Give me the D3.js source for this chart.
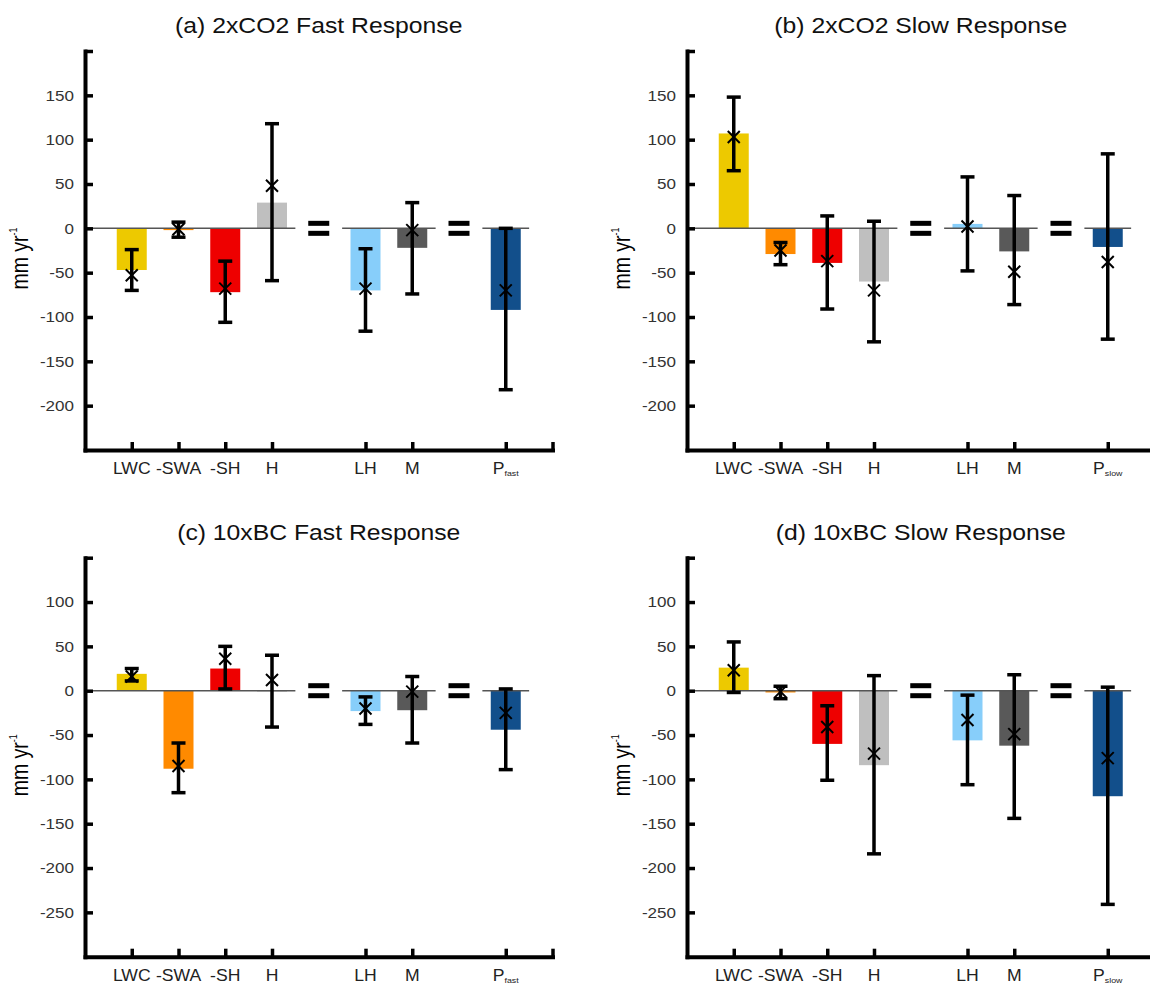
<!DOCTYPE html>
<html>
<head>
<meta charset="utf-8">
<script src="https://cdn.jsdelivr.net/npm/d3@7"></script>
<style>
  body { margin: 0; background: #fff; }
  svg text { font-family: "Liberation Sans", Arial, sans-serif; }
</style>
</head>
<body>
<div id="chart"></div>
<script>
var vWidth = 1150;
var vHeight = 985;

// categories (blank slots hold the "=" signs and the axis ends)
var categories = ["LWC", "-SWA", "-SH", "H", "LH", "M", "P"];
var slots = ["start", "LWC", "-SWA", "-SH", "H", "eq1", "LH", "M", "eq2", "P", "end"];
var colors = ["#edc900", "#ff8a00", "#ee0000", "#bfbfbf", "#87cefa", "#595959", "#124f8b"];

// (a) 2xCO2 fast
var barA   = [-47, -2, -72, 29, -70, -22, -92];
var crossA = [-53, -1, -68, 48, -68, -2, -70];
var lowA   = [-70, -10, -106, -59, -116, -74, -182];
var highA  = [-24, 7, -37, 118, -23, 29, 0];

// (b) 2xCO2 slow
var barB   = [107, -29, -39, -60, 5, -26, -21];
var crossB = [103, -25, -37, -70, 2, -49, -38];
var lowB   = [65, -41, -91, -128, -48, -86, -125];
var highB  = [148, -16, 14, 8, 58, 37, 84];

// (c) 10xBC fast
var barC   = [19, -88, 25, -1, -23, -22, -44];
var crossC = [16, -85, 36, 12, -20, -1, -25];
var lowC   = [11, -115, 2, -41, -38, -59, -89];
var highC  = [25, -59, 50, 40, -7, 16, 2];

// (d) 10xBC slow
var barD   = [26, -2, -60, -84, -56, -62, -119];
var crossD = [23, -1, -41, -71, -33, -49, -76];
var lowD   = [-2, -9, -101, -184, -106, -144, -241];
var highD  = [55, 5, -17, 17, -5, 18, 4];

var panels = [
  { title: "(a) 2xCO2 Fast Response", sub: "fast", x0: 85,  top: 51,    dom: [-250, 200], bar: barA, cross: crossA, low: lowA, high: highA },
  { title: "(b) 2xCO2 Slow Response", sub: "slow", x0: 687, top: 51,    dom: [-250, 200], bar: barB, cross: crossB, low: lowB, high: highB },
  { title: "(c) 10xBC Fast Response", sub: "fast", x0: 85,  top: 557.7, dom: [-300, 150], bar: barC, cross: crossC, low: lowC, high: highC },
  { title: "(d) 10xBC Slow Response", sub: "slow", x0: 687, top: 557.7, dom: [-300, 150], bar: barD, cross: crossD, low: lowD, high: highD }
];

var plotW = 467.5;
var plotH = 399;
var barW = 30;
var stretch = 1.1; // the original figure is a bit wider than tall

var svg = d3.select("#chart")
    .append("svg")
    .attr("width", vWidth)
    .attr("height", vHeight);

panels.forEach(function (p) {
    var g = svg.append("g");
    var x = d3.scalePoint().domain(slots).range([p.x0, p.x0 + plotW]);
    var y = d3.scaleLinear().domain(p.dom).range([p.top + plotH, p.top]);
    var half = x.step() / 2;
    var rows = categories.map(function (c, i) {
        return { cat: c, bar: p.bar[i], cross: p.cross[i], low: p.low[i], high: p.high[i], color: colors[i] };
    });

    // bars
    g.selectAll("rect.bar").data(rows).enter().append("rect")
        .attr("class", "bar")
        .attr("x", d => x(d.cat) - barW / 2)
        .attr("width", barW)
        .attr("y", d => y(Math.max(0, d.bar)))
        .attr("height", d => Math.abs(y(d.bar) - y(0)))
        .attr("fill", d => d.color);

    // zero line, broken at the "=" signs
    var segs = [[x("start"), x("H") + half], [x("LH") - half, x("M") + half], [x("P") - half, x("P") + half]];
    g.selectAll("line.zero").data(segs).enter().append("line")
        .attr("x1", d => d[0]).attr("x2", d => d[1])
        .attr("y1", y(0)).attr("y2", y(0))
        .attr("stroke", "#555").attr("stroke-width", 1.5);

    // "=" signs
    ["eq1", "eq2"].forEach(function (k) {
        [-7.5, 2.5].forEach(function (dy) {
            g.append("rect")
                .attr("x", x(k) - 10.5).attr("width", 21)
                .attr("y", y(0) + dy).attr("height", 5)
                .attr("fill", "#000");
        });
    });

    // error bars
    g.selectAll("line.err").data(rows).enter().append("line")
        .attr("x1", d => x(d.cat)).attr("x2", d => x(d.cat))
        .attr("y1", d => y(d.low)).attr("y2", d => y(d.high))
        .attr("stroke", "#000").attr("stroke-width", 3.5);
    var caps = [];
    rows.forEach(function (d) { caps.push([d.cat, d.low]); caps.push([d.cat, d.high]); });
    g.selectAll("line.cap").data(caps).enter().append("line")
        .attr("x1", d => x(d[0]) - 7).attr("x2", d => x(d[0]) + 7)
        .attr("y1", d => y(d[1])).attr("y2", d => y(d[1]))
        .attr("stroke", "#000").attr("stroke-width", 3.5);

    // x markers
    var mk = g.selectAll("g.mark").data(rows).enter().append("g")
        .attr("transform", d => "translate(" + x(d.cat) + "," + y(d.cross) + ")");
    mk.append("path")
        .attr("d", "M-6,-6L6,6M-6,6L6,-6")
        .attr("stroke", "#000").attr("stroke-width", 2).attr("fill", "none");

    // y axis
    var yTicks = d3.range(p.dom[0] + 50, p.dom[1] + 1, 50);
    var yAxis = g.append("g")
        .attr("transform", "translate(" + p.x0 + ",0)")
        .call(d3.axisLeft(y).tickValues(yTicks).tickSize(-8).tickSizeOuter(0).tickPadding(10)
            .tickFormat(v => v === p.dom[1] ? "" : v));
    yAxis.select(".domain").attr("stroke-width", 4).attr("stroke-linecap", "square");
    yAxis.selectAll(".tick line").attr("stroke-width", 3.5);
    yAxis.selectAll(".tick text").attr("font-size", 15.5).attr("fill", "#333")
        .attr("transform", "scale(" + stretch + ",1)")
        .style("font-family", "'Liberation Sans', Arial, sans-serif");

    // x axis
    var xAxis = g.append("g")
        .attr("transform", "translate(0," + (p.top + plotH) + ")")
        .call(d3.axisBottom(x).tickValues(categories.concat(["end"])).tickSize(-8).tickSizeOuter(0).tickFormat(""));
    xAxis.select(".domain").attr("stroke-width", 4).attr("stroke-linecap", "square");
    xAxis.selectAll(".tick line").attr("stroke-width", 3.5);

    // x labels
    var lab = g.selectAll("text.xlab").data(categories).enter().append("text")
        .attr("class", "xlab")
        .attr("transform", d => "translate(" + x(d) + "," + (p.top + plotH + 24) + ") scale(" + stretch + ",1)")
        .attr("text-anchor", "middle")
        .attr("font-size", 16)
        .attr("fill", "#222")
        .text(d => d === "P" ? null : d);
    lab.filter(d => d === "P").each(function () {
        var t = d3.select(this);
        t.append("tspan").text("P");
        t.append("tspan").attr("font-size", 8).attr("dy", 2).text(p.sub);
    });

    // y label
    var ymid = p.top + plotH / 2 + 8;
    var yl = g.append("text")
        .attr("transform", "translate(" + (p.x0 - 57) + "," + ymid + ") rotate(-90) scale(1," + (stretch + 0.1) + ")")
        .attr("text-anchor", "middle")
        .attr("font-size", 19.5)
        .attr("fill", "#000");
    yl.append("tspan").text("mm yr");
    yl.append("tspan").attr("font-size", 9).attr("dy", -9).text("-1");

    // title
    g.append("text")
        .attr("transform", "translate(" + (p.x0 + plotW / 2) + "," + (p.top - 18) + ") scale(" + stretch + ",1)")
        .attr("text-anchor", "middle")
        .attr("font-size", 22.5)
        .attr("fill", "#111")
        .text(p.title);
});
</script>
</body>
</html>
